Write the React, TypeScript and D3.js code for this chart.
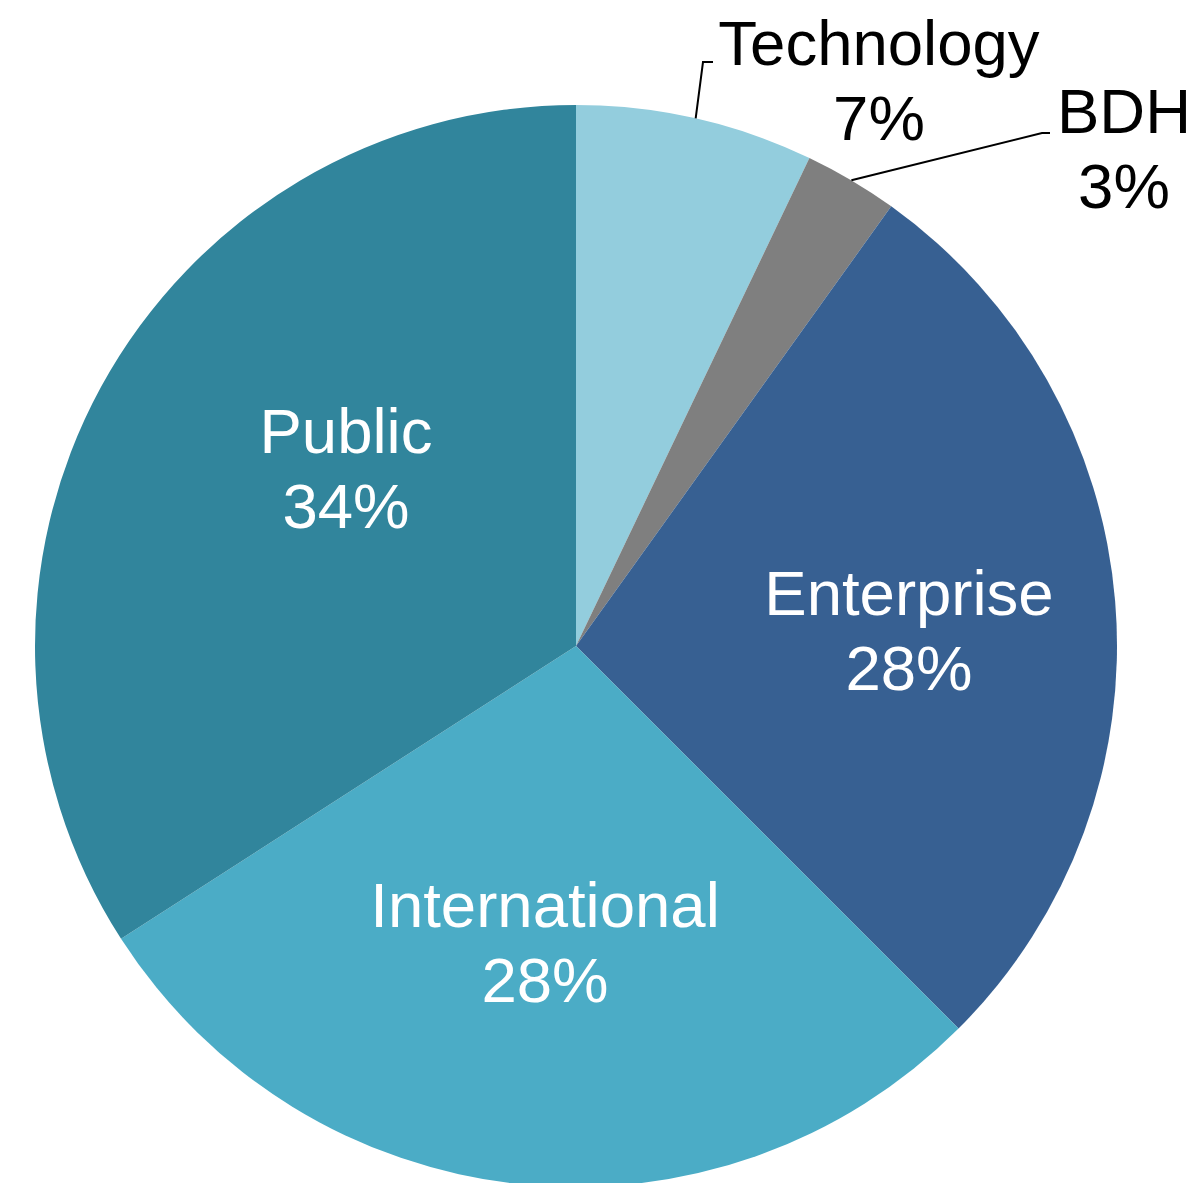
import React from "react";
import * as d3 from "d3";

const categories = ["Technology", "BDH", "Enterprise", "International", "Public"];
const values = [7.1, 2.8, 27.6, 28.4, 34.1];
const pctLabels = ["7%", "3%", "28%", "28%", "34%"];
const colors = ["#93CDDD", "#7F7F7F", "#376092", "#4BACC6", "#31859C"];

// layout (label anchor: text block center x, first baseline y), relative to page
const labelLayout: Record<string, { x: number; y: number; outside: boolean; elbow?: [number, number]; end?: [number, number] }> = {
  Technology: { x: 879, y: 65, outside: true, elbow: [703, 62], end: [713, 62] },
  BDH: { x: 1124, y: 133, outside: true, elbow: [1042, 133], end: [1050, 133] },
  Enterprise: { x: 909, y: 615, outside: false },
  International: { x: 545, y: 927, outside: false },
  Public: { x: 346, y: 453, outside: false },
};

const W = 1195;
const H = 1183;
const cx = 576;
const cy = 646;
const R = 541;
const FONT = 63.5;
const LINE = 75;

export default function App() {
  const data = categories.map((c, i) => ({ name: c, value: values[i], pct: pctLabels[i], color: colors[i] }));
  const pie = d3.pie<any>().value((d) => d.value).sort(null);
  const arcs = pie(data);
  const arcGen = d3.arc<any>().innerRadius(0).outerRadius(R);

  return (
    <div style={{ position: "absolute", left: 0, top: 0 }}>
      <svg width={W} height={H} style={{ display: "block", background: "#fff" }}>
        <g transform={`translate(${cx},${cy})`}>
          {arcs.map((a) => (
            <path key={a.data.name} d={arcGen(a) || ""} fill={a.data.color} />
          ))}
        </g>
        {arcs.map((a) => {
          const L = labelLayout[a.data.name];
          const mid = (a.startAngle + a.endAngle) / 2;
          const sx = cx + R * Math.sin(mid);
          const sy = cy - R * Math.cos(mid);
          return (
            <g key={"l" + a.data.name}>
              {L.outside && L.elbow && L.end && (
                <polyline
                  points={`${sx},${sy} ${L.elbow[0]},${L.elbow[1]} ${L.end[0]},${L.end[1]}`}
                  fill="none"
                  stroke="#000"
                  strokeWidth={2}
                />
              )}
              <text
                x={L.x}
                y={L.y}
                textAnchor="middle"
                fontFamily="'Liberation Sans', Arial, sans-serif"
                fontSize={FONT}
                fill={L.outside ? "#000" : "#fff"}
              >
                {a.data.name}
              </text>
              <text
                x={L.x}
                y={L.y + LINE}
                textAnchor="middle"
                fontFamily="'Liberation Sans', Arial, sans-serif"
                fontSize={FONT}
                fill={L.outside ? "#000" : "#fff"}
              >
                {a.data.pct}
              </text>
            </g>
          );
        })}
      </svg>
    </div>
  );
}
